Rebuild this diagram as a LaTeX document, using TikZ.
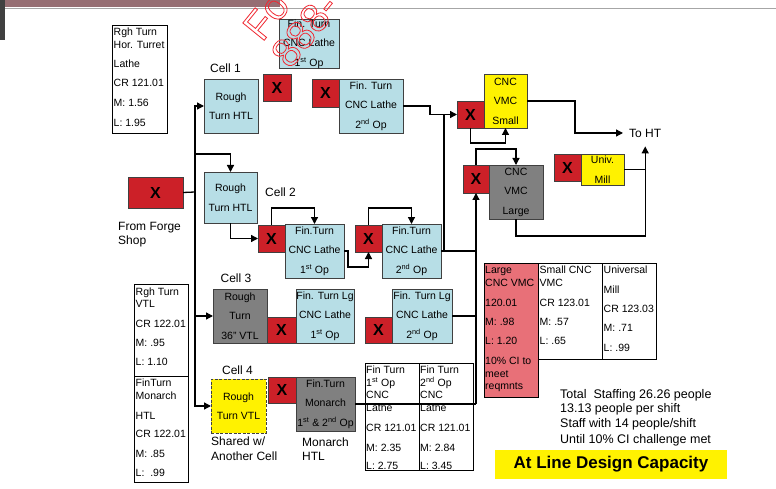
\documentclass[tikz,border=0pt]{standalone}
\usepackage{fontspec}
\setmainfont{Liberation Sans}
\usetikzlibrary{arrows.meta,calc}
\definecolor{cblue}{RGB}{183,222,230}
\definecolor{cgray}{RGB}{128,128,128}
\definecolor{cyel}{RGB}{255,242,0}
\definecolor{cred}{RGB}{204,32,40}
\definecolor{cpink}{RGB}{232,112,120}
\definecolor{cwm}{RGB}{240,40,50}
\definecolor{cstrip}{RGB}{150,110,115}
\newcommand\bx[7]{%
  \pgfmathsetmacro\bxw{#5-#3}\pgfmathsetmacro\bxh{#6-#4}%
  \node[#2, minimum width=\bxw pt, minimum height=\bxh pt] (#1) at ({(#3+#5)/2},{(#4+#6)/2}) {#7};}
\newcommand\itx[4]{\node[itxt] (#1) at (#2,#3) {#4};}
\tikzset{
  box/.style={draw=black!75, line width=0.9pt, inner sep=0pt, outer sep=0pt, align=center,
    font=\fontsize{10.5}{19.5}\selectfont},
  bluebox/.style={box, fill=cblue},
  graybox/.style={box, fill=cgray},
  yelbox/.style={box, fill=cyel},
  xbox/.style={box, fill=cred, font=\fontsize{16}{16}\selectfont\bfseries},
  info/.style={draw=black, line width=0.7pt, inner sep=0pt, outer sep=0pt},
  conn/.style={line width=1.3pt, black},
  arr/.style={conn, -{Triangle[length=7pt,width=7pt]}},
  lbl/.style={font=\fontsize{12}{14}\selectfont, inner sep=0pt},
  itxt/.style={font=\fontsize{10.5}{12}\selectfont, anchor=base west, inner sep=0pt},
  stxt/.style={font=\fontsize{12.5}{14}\selectfont, anchor=base west, inner sep=0pt},
}
\begin{document}
\begin{tikzpicture}[x=1pt,y=-1pt]
\useasboundingbox (0,0) rectangle (776,489);
\fill[white] (0,0) rectangle (776,489);
% top frame remnants
\fill[cstrip] (0,0) rectangle (280,7);
\fill[black!75] (0,0) rectangle (5,40);
\draw[black!35, line width=1pt] (5,9) -- (776,9);

% ---- boxes ----
\bx{r1}{bluebox}{204}{79}{258}{133}{Rough\\Turn HTL}
\bx{x1}{xbox}{263}{74}{291}{101}{X}
\bx{f11}{bluebox}{279}{20}{339}{68}{Fin. Turn\\CNC Lathe\\1\textsuperscript{st} Op}
\bx{x12}{xbox}{312}{79}{339}{107}{X}
\bx{f12}{bluebox}{339}{79}{403}{133}{Fin. Turn\\CNC Lathe\\2\textsuperscript{nd} Op}
\bx{xs}{xbox}{457}{101}{484}{128}{X}
\bx{vs}{yelbox}{484}{74}{527}{128}{CNC\\VMC\\Small}
\bx{xl}{xbox}{463}{165}{489}{193}{X}
\bx{vl}{graybox}{489}{165}{543}{219}{CNC\\VMC\\Large}
\bx{xm}{xbox}{554}{154}{581}{181}{X}
\bx{um}{yelbox}{581}{154}{624}{185}{Univ.\\Mill}
\bx{forge}{xbox}{128}{177}{183}{208}{X}
\bx{r2}{bluebox}{204}{172}{257}{223}{Rough\\Turn HTL}
\bx{x21}{xbox}{258}{225}{285}{252}{X}
\bx{c21}{bluebox}{285}{224}{344}{278}{Fin.Turn\\CNC Lathe\\1\textsuperscript{st} Op}
\bx{x22}{xbox}{355}{225}{382}{252}{X}
\bx{c22}{bluebox}{382}{224}{441}{278}{Fin.Turn\\CNC Lathe\\2\textsuperscript{nd} Op}
\bx{r3}{graybox}{213}{289}{267}{343}{Rough\\Turn\\36" VTL}
\bx{x31}{xbox}{267}{317}{296}{343}{X}
\bx{c31}{bluebox}{296}{289}{354}{343}{Fin. Turn Lg\\CNC Lathe\\1\textsuperscript{st} Op}
\bx{x32}{xbox}{365}{317}{392}{343}{X}
\bx{c32}{bluebox}{392}{289}{452}{343}{Fin. Turn Lg\\CNC Lathe\\2\textsuperscript{nd} Op}
\bx{r4}{yelbox, dash pattern=on 3pt off 1.5pt}{211}{379}{266}{433}{Rough\\Turn VTL}
\bx{x4}{xbox}{268}{377}{296}{403}{X}
\bx{mon}{graybox}{296}{377}{355}{431}{Fin.Turn\\Monarch\\1\textsuperscript{st} \& 2\textsuperscript{nd} Op}

% ---- labels ----
\node[lbl] (cell1) at (225.5,68) {Cell 1};
\node[lbl] (cell2) at (280.5,192) {Cell 2};
\node[lbl] (cell3) at (236,278) {Cell 3};
\node[lbl] (cell4) at (237.5,370) {Cell 4};
\node[lbl, anchor=base west] (ff1) at (118,230.5) {From Forge};
\node[lbl, anchor=base west] (ff2) at (118,244.5) {Shop};
\node[lbl, anchor=base west] (sh1) at (211,445.5) {Shared w/};
\node[lbl, anchor=base west] (sh2) at (211,460.5) {Another Cell};
\node[lbl, anchor=base west] (mh1) at (302,446.5) {Monarch};
\node[lbl, anchor=base west] (mh2) at (302,460.5) {HTL};
\node[lbl, anchor=west] (toht) at (629,133) {To HT};

% ---- connectors ----
\coordinate (tj) at (195,192);
\coordinate (tb) at (195,154);
\draw[conn] (forge.east) -- (tj);
\draw[arr] (tj) |- (r1.west);
\draw[arr] (tj) |- (r3.west);
\draw[arr] (tj) |- (r4.west);
\draw[arr] (tb) -| (r2.north);

\draw[arr] (r2.south) |- (x21.west);
\draw[arr] (x21.north) -- ++(0,-17) -| (c21.north);
\draw[arr] (c21.east) -- ++(4,0) -- ++(0,16) -| (x22.south);
\draw[arr] (x22.north) -- ++(0,-17) -| (c22.north);

\draw[arr] (f12.east) -- ++(27,0) |- (xs.west);
\coordinate (v44) at (444,251);
\draw[conn] (c22.east) -- (c22.east -| xl.south);
\draw[conn] (v44) -- (v44 |- xs.west);

\draw[arr] (xs.south) -- ++(0,15) -| (vs.south);
\coordinate (tohtend) at ($(toht.west)+(-6,0)$);
\draw[arr] (vs.east) -- ++(48,0) |- (tohtend);

\draw[arr] (xl.north) -- ++(0,-16) -| (vl.north);
\coordinate (j4) at (mon.east -| xl.south);
\draw[conn] (mon.east) -- (j4);
\draw[conn] (c32.east) -- (c32.east -| xl.south);
\draw[arr] (j4) -- (xl.south);

\coordinate (htip) at ($(toht.south)+(0,9)$);
\coordinate (hb) at (htip |- 0,236);
\draw[arr] (vl.south) |- (hb) -- (htip);
\draw[conn] (um.east) -- (um.east -| htip);

% ---- info box 1 ----
\bx{inf1}{info}{112}{25}{167}{133}{}
\itx{a1}{113.5}{36}{Rgh Turn}
\itx{a2}{113.5}{49}{Hor. Turret}
\itx{a3}{113.5}{68}{Lathe}
\itx{a4}{113.5}{87}{CR 121.01}
\itx{a5}{113.5}{107}{M: 1.56}
\itx{a6}{113.5}{127}{L: 1.95}

% ---- info box 2 ----
\bx{inf2}{info}{134}{284}{188}{482}{}
\draw[info] (134,376) -- (188,376);
\itx{b1}{135.5}{295}{Rgh Turn}
\itx{b2}{135.5}{307}{VTL}
\itx{b3}{135.5}{327}{CR 122.01}
\itx{b4}{135.5}{346}{M: .95}
\itx{b5}{135.5}{365}{L: 1.10}
\itx{b6}{135.5}{386}{FinTurn}
\itx{b7}{135.5}{399}{Monarch}
\itx{b8}{135.5}{419}{HTL}
\itx{b9}{135.5}{437}{CR 122.01}
\itx{b10}{135.5}{457}{M: .85}
\itx{b11}{135.5}{476}{L:\ \ .99}

% ---- info table 3 ----
\bx{inf3}{info}{365}{363}{473}{470}{}
\draw[info] (419,363) -- (419,470);
\itx{c1}{366}{373}{Fin Turn}
\itx{c2}{366}{386}{1\textsuperscript{st} Op}
\itx{c3}{366}{398}{CNC}
\itx{c4}{366}{411}{Lathe}
\itx{c5}{366}{431}{CR 121.01}
\itx{c6}{366}{451}{M: 2.35}
\itx{c7}{366}{469}{L: 2.75}
\itx{d1}{420}{373}{Fin Turn}
\itx{d2}{420}{386}{2\textsuperscript{nd} Op}
\itx{d3}{420}{398}{CNC}
\itx{d4}{420}{411}{Lathe}
\itx{d5}{420}{431}{CR 121.01}
\itx{d6}{420}{451}{M: 2.84}
\itx{d7}{420}{469}{L: 3.45}

% ---- right table ----
\bx{inf4}{info, fill=cpink}{484}{263}{538}{397}{}
\bx{inf5}{info}{538}{263}{602}{359}{}
\bx{inf6}{info}{602}{263}{656}{359}{}
\itx{e1}{485}{273}{Large}
\itx{e2}{485}{286}{CNC VMC}
\itx{e3}{485}{306}{120.01}
\itx{e4}{485}{325}{M: .98}
\itx{e5}{485}{344}{L: 1.20}
\itx{e6}{485}{364}{10\% CI to}
\itx{e7}{485}{377}{meet}
\itx{e8}{485}{389}{reqmnts}
\itx{g1}{539.5}{273}{Small CNC}
\itx{g2}{539.5}{286}{VMC}
\itx{g3}{539.5}{306}{CR 123.01}
\itx{g4}{539.5}{325}{M: .57}
\itx{g5}{539.5}{344}{L: .65}
\itx{h1}{603.5}{273}{Universal}
\itx{h2}{603.5}{293}{Mill}
\itx{h3}{603.5}{312}{CR 123.03}
\itx{h4}{603.5}{331}{M: .71}
\itx{h5}{603.5}{351}{L: .99}

% ---- staffing ----
\node[stxt] (s1) at (560,398.5) {Total\ \ Staffing 26.26 people};
\node[stxt] (s2) at (560,412.5) {13.13 people per shift};
\node[stxt] (s3) at (560,427.5) {Staff with 14 people/shift};
\node[stxt] (s4) at (560,443.5) {Until 10\% CI challenge met};
\bx{ban}{fill=cyel, inner sep=0pt, font=\fontsize{17}{17}\selectfont\bfseries}{495}{450}{727}{479}{At Line Design Capacity}

% ---- watermark ----
\node[text=cwm, rotate=51, anchor=base west, inner sep=0pt, font=\fontsize{40}{40}\selectfont]
  (wm1) at (262,43) {\special{pdf:literal q 1 Tr 0.8 w}Fo\special{pdf:literal Q}};
\node[text=cwm, rotate=51, anchor=base west, inner sep=0pt, font=\fontsize{40}{40}\selectfont]
  (wm2) at (290,70) {\special{pdf:literal q 1 Tr 0.8 w}888-\special{pdf:literal Q}};
\end{tikzpicture}
\end{document}
